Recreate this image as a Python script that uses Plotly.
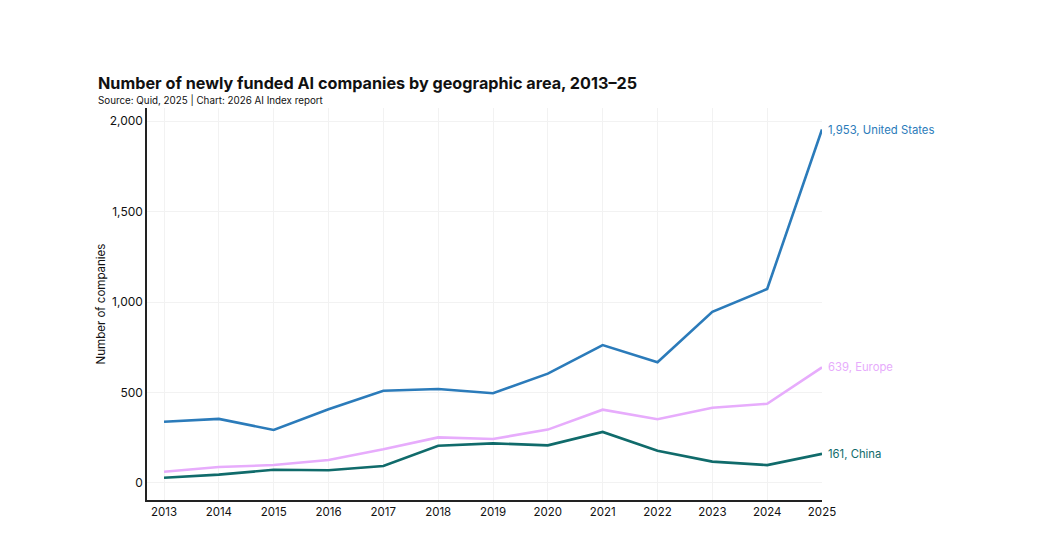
import plotly.graph_objects as go

years = list(range(2013, 2026))
us = [338, 354, 293, 407, 510, 519, 496, 604, 762, 667, 946, 1072, 1953]
europe = [62, 88, 99, 127, 186, 252, 243, 295, 405, 352, 416, 438, 639]
china = [29, 46, 73, 70, 94, 206, 219, 208, 282, 178, 118, 99, 161]

series = [
    ("United States", us, "#2b7bba"),
    ("Europe", europe, "#e7acfc"),
    ("China", china, "#106b6b"),
]

FONT = "Inter"
L, R, T, B = 147, 224, 108, 41
W, H = 1046, 541
PW, PH = W - L - R, H - T - B

def px_x(p):
    return (p - L) / PW

def px_y(p):
    return (H - B - p) / PH

fig = go.Figure()
for name, vals, color in series:
    fig.add_trace(go.Scatter(x=years, y=vals, mode="lines", name=name,
                             line=dict(color=color, width=2.6), showlegend=False))
    fig.add_annotation(x=years[-1], y=vals[-1], text=f"{vals[-1]:,}, {name}",
                       showarrow=False, xanchor="left", yanchor="middle", xshift=4,
                       font=dict(family=FONT, size=11.3, color=color))

fig.add_annotation(xref="paper", yref="paper", x=px_x(96), y=px_y(83),
                   xanchor="left", yanchor="middle", showarrow=False,
                   text="<b>Number of newly funded AI companies by geographic area, 2013–25</b>",
                   font=dict(family=FONT, size=16.2, color="#111"))
fig.add_annotation(xref="paper", yref="paper", x=px_x(96), y=px_y(99.5),
                   xanchor="left", yanchor="middle", showarrow=False,
                   text="Source: Quid, 2025 | Chart: 2026 AI Index report",
                   font=dict(family=FONT, size=9.8, color="#111"))

fig.update_layout(
    width=W, height=H,
    margin=dict(l=L, r=R, t=T, b=B),
    paper_bgcolor="white", plot_bgcolor="white",
    font=dict(family=FONT, size=12, color="#111"),
)
fig.update_xaxes(range=[2012.69, 2025], tickmode="array", tickvals=years,
                 ticktext=[str(y) for y in years], showgrid=True, gridcolor="#f2f2f2",
                 showline=True, linecolor="#222", linewidth=1.5, ticks="",
                 tickfont=dict(size=11.5), zeroline=False)
fig.update_yaxes(range=[-94, 2072], tickvals=[0, 500, 1000, 1500, 2000],
                 tickformat=",", showgrid=True, gridcolor="#f2f2f2",
                 showline=True, linecolor="#222", linewidth=1.5, ticks="",
                 tickfont=dict(size=12), zeroline=False,
                 title=dict(text="Number of companies", font=dict(size=11.5), standoff=2))

fig.write_html("out.html")
